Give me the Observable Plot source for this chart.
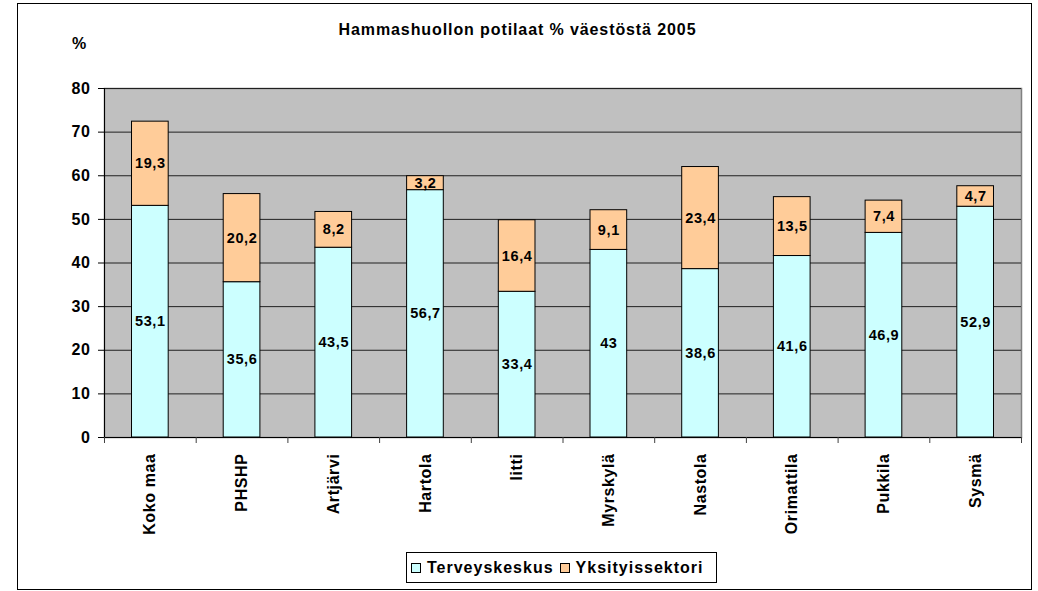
<!DOCTYPE html>
<html>
<head>
<meta charset="utf-8">
<script src="https://cdn.jsdelivr.net/npm/d3@7"></script>
<script src="https://cdn.jsdelivr.net/npm/@observablehq/plot@0.6"></script>
<style>
  html, body { margin: 0; padding: 0; background: #fff; }
  #wrap { position: relative; width: 1038px; height: 591px; font-family: "Liberation Sans", Arial, sans-serif; font-weight: bold; }
  #wrap svg { position: absolute; left: 0; top: 0; }
  .ov { position: absolute; white-space: nowrap; color: #000; }
  #border { position: absolute; left: 17px; top: 3px; width: 1015px; height: 587px; border: 1px solid #000; box-sizing: border-box; pointer-events: none; }
  #legend { position: absolute; left: 406px; top: 552px; width: 311px; height: 31px; border: 1px solid #000; box-sizing: border-box; background: #fff; display: flex; align-items: center; padding-left: 4px; font-size: 16px; letter-spacing: 1px; }
  .sw { display: inline-block; width: 10px; height: 10px; border: 1px solid #000; margin-right: 6px; box-sizing: border-box; }
</style>
</head>
<body>
<div id="wrap">
  <div id="border"></div>
</div>
<script>
const categories = ["Koko maa","PHSHP","Artjärvi","Hartola","Iitti","Myrskylä","Nastola","Orimattila","Pukkila","Sysmä"];
const terveyskeskus = [53.1,35.6,43.5,56.7,33.4,43,38.6,41.6,46.9,52.9];
const yksityissektori = [19.3,20.2,8.2,3.2,16.4,9.1,23.4,13.5,7.4,4.7];
const seriesNames = ["Terveyskeskus","Yksityissektori"];
const seriesColors = ["#CCFFFF","#FFCC99"];
const yTicks = [0,10,20,30,40,50,60,70,80];
const titleText = "Hammashuollon potilaat % väestöstä 2005";

const data = [];
categories.forEach((c, i) => {
  data.push({cat: c, series: seriesNames[0], value: terveyskeskus[i]});
  data.push({cat: c, series: seriesNames[1], value: yksityissektori[i]});
});
const fmt = v => String(v).replace(".", ",");

const W = 1038, H = 591, ml = 104, mr = 17, mt = 88, mb = 154;
const step = (W - ml - mr) / categories.length;
const font = {fontFamily: "Liberation Sans, Arial, sans-serif", fontWeight: "bold", fontSize: 14, fill: "#000"};

const chart = Plot.plot({
  width: W, height: H,
  marginLeft: ml, marginRight: mr, marginTop: mt, marginBottom: mb,
  style: {fontFamily: "Liberation Sans, Arial, sans-serif", background: "transparent", overflow: "visible", letterSpacing: "0.6px"},
  x: {type: "band", domain: categories, paddingInner: 0.6, paddingOuter: 0.3, align: 0.5, round: false, axis: null, label: null},
  y: {domain: [0, 80], axis: null, label: null},
  color: {domain: seriesNames, range: seriesColors},
  marks: [
    Plot.frame({fill: "#C0C0C0", stroke: "#808080", strokeWidth: 1.5}),
    Plot.gridY(yTicks, {stroke: "#202020", strokeOpacity: 1, strokeWidth: 1}),
    Plot.barY(data, Plot.stackY({x: "cat", y: "value", fill: "series", stroke: "#000", strokeWidth: 1})),
    Plot.text(data, Plot.stackY({x: "cat", y: "value", z: "series", text: d => fmt(d.value), ...font, fontSize: 14.5})),
    Plot.frame({anchor: "left", stroke: "#000", strokeWidth: 1}),
    Plot.frame({anchor: "bottom", stroke: "#000", strokeWidth: 1}),
    Plot.axisY(yTicks, {label: null, tickSize: 6, tickPadding: 8, stroke: "#000", ...font, fontSize: 16, tickFormat: d => d}),
    Plot.ruleX(categories, {x: d => d, dx: -step / 2, y1: 0, y2: 0, insetBottom: -6, stroke: "#404040"}),
    Plot.ruleX([categories[categories.length - 1]], {x: d => d, dx: step / 2, y1: 0, y2: 0, insetBottom: -6, stroke: "#404040"}),
    Plot.text(categories, {x: d => d, frameAnchor: "bottom", dy: 16, rotate: -90, textAnchor: "end", lineAnchor: "middle", text: d => d, ...font, fontSize: 16})
  ]
});

const wrap = document.getElementById("wrap");
wrap.insertBefore(chart, wrap.firstChild);

const title = document.createElement("div");
title.className = "ov";
title.style.cssText = "left:0; width:1035px; text-align:center; top:21px; font-size:16px; letter-spacing:0.9px;";
title.textContent = titleText;
wrap.appendChild(title);

const pct = document.createElement("div");
pct.className = "ov";
pct.style.cssText = "left:72px; top:35px; font-size:16px;";
pct.textContent = "%";
wrap.appendChild(pct);

const legend = document.createElement("div");
legend.id = "legend";
seriesNames.forEach((s, i) => {
  const sw = document.createElement("span");
  sw.className = "sw";
  sw.style.background = seriesColors[i];
  if (i > 0) sw.style.marginLeft = "6px";
  legend.appendChild(sw);
  const t = document.createElement("span");
  t.textContent = s;
  legend.appendChild(t);
});
wrap.appendChild(legend);
</script>
</body>
</html>
